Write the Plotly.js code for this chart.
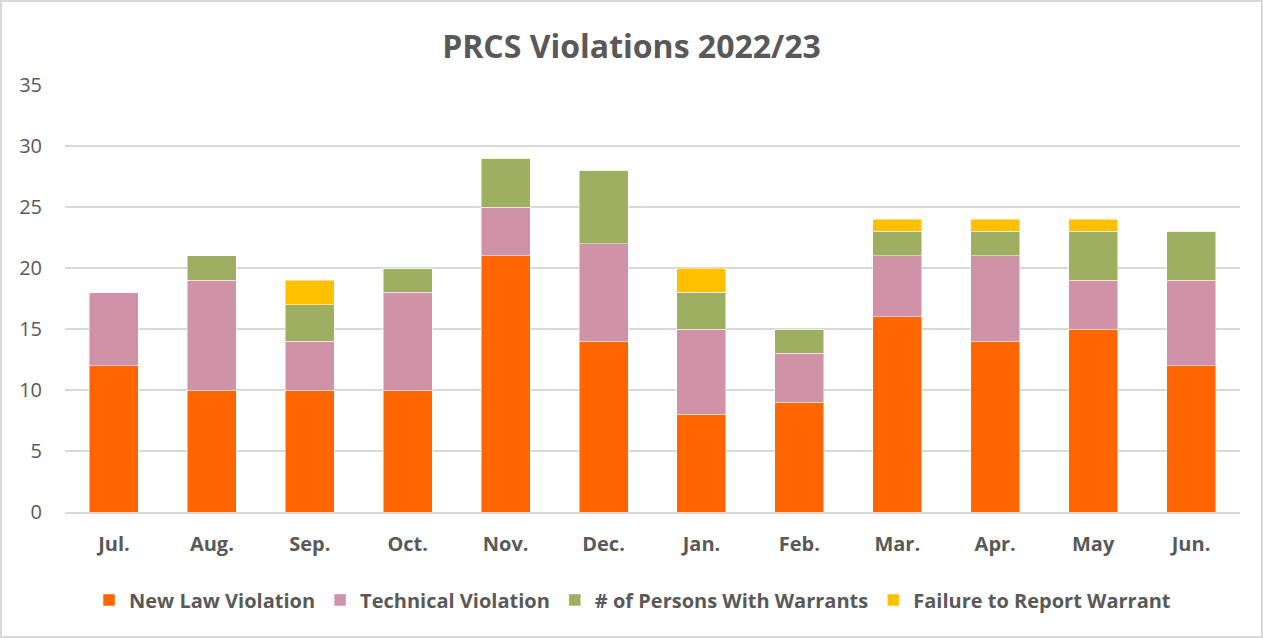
<!DOCTYPE html>
<html>
<head>
<meta charset="utf-8">
<script src="https://cdn.plot.ly/plotly-3.0.1.min.js"></script>
<style>
  html, body { margin: 0; padding: 0; background: #fff; }
  #chart { width: 1263px; height: 638px; }
</style>
</head>
<body>
<div id="chart"></div>
<script>
const months = ["Jul.", "Aug.", "Sep.", "Oct.", "Nov.", "Dec.", "Jan.", "Feb.", "Mar.", "Apr.", "May", "Jun."];
const newLaw    = [12, 10, 10, 10, 21, 14, 8, 9, 16, 14, 15, 12];
const technical = [6, 9, 4, 8, 4, 8, 7, 4, 5, 7, 4, 7];
const warrants  = [0, 2, 3, 2, 4, 6, 3, 2, 2, 2, 4, 4];
const failure   = [0, 0, 2, 0, 0, 0, 2, 0, 1, 1, 1, 0];
const seriesNames = ["New Law Violation", "Technical Violation", "# of Persons With Warrants", "Failure to Report Warrant"];
const seriesColors = ["#FF6600", "#D092A7", "#9FAF62", "#FFC000"];
const seriesData = [newLaw, technical, warrants, failure];

const FONT = "'Open Sans', sans-serif";
const GREY = "#595959";

const W = 1263, H = 638;
const M = { l: 65, r: 23, t: 85, b: 126 };
const pw = W - M.l - M.r, ph = H - M.t - M.b;

const traces = seriesData.map((vals, i) => ({
  type: "bar",
  name: seriesNames[i],
  x: months,
  y: vals,
  marker: { color: seriesColors[i], line: { color: "rgba(255,255,255,0.6)", width: 0.8 } },
  hoverinfo: "x+y+name"
}));

const layout = {
  width: W,
  height: H,
  barmode: "stack",
  bargap: 0.5,
  paper_bgcolor: "#fff",
  plot_bgcolor: "#fff",
  margin: M,
  title: {
    text: "<b>PRCS Violations 2022/23</b>",
    font: { family: FONT, size: 32, color: GREY },
    x: 0.5, xanchor: "center", y: 0.926, yanchor: "middle"
  },
  font: { family: FONT, color: GREY },
  xaxis: {
    type: "category",
    tickfont: { family: FONT, size: 20, color: GREY, weight: 700 },
    showgrid: false,
    showline: true,
    linecolor: "#D9D9D9",
    linewidth: 1.5,
    ticks: "",
    ticklabelstandoff: 13,
    fixedrange: true
  },
  yaxis: {
    range: [0, 35],
    dtick: 5,
    tick0: 0,
    tickfont: { family: FONT, size: 20, color: GREY },
    gridcolor: "#D9D9D9",
    gridwidth: 1.5,
    zeroline: false,
    showline: false,
    ticks: "",
    ticklabelstandoff: 22,
    fixedrange: true
  },
  shapes: [{
    type: "rect",
    xref: "paper", yref: "paper",
    x0: -(M.l - 1) / pw, x1: 1 + (M.r - 1) / pw,
    y0: -(M.b - 1) / ph, y1: 1 + (M.t - 1) / ph,
    line: { color: "#D9D9D9", width: 2 },
    fillcolor: "rgba(0,0,0,0)",
    layer: "below"
  }],
  showlegend: true,
  legend: {
    orientation: "h",
    x: 0.483, xanchor: "center",
    y: -0.206, yanchor: "middle",
    traceorder: "normal",
    font: { family: FONT, size: 20, color: GREY, weight: 700 },
    itemwidth: 30,
    itemclick: false
  }
};

Plotly.newPlot("chart", traces, layout, { displayModeBar: false });
</script>
</body>
</html>
